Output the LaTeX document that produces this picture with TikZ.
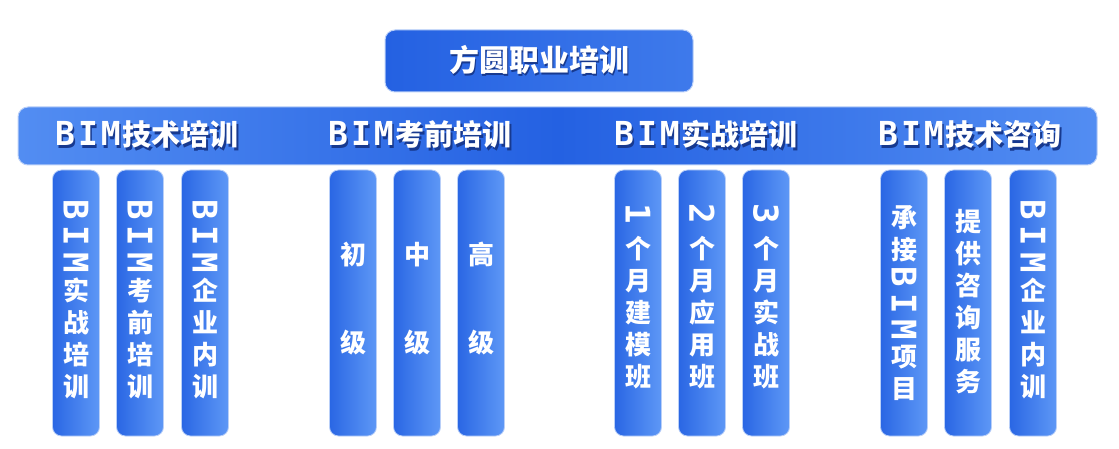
\documentclass[tikz,border=0pt]{standalone}
\usepackage{fontspec}
\usepackage{graphicx}
\setmainfont{Noto Sans CJK SC}
\newfontfamily\latfont{DejaVu Sans Mono}

\definecolor{deepblue}{HTML}{2461E2}
\definecolor{paleblue}{HTML}{5E98F6}
\definecolor{rimblue}{HTML}{B9CFF8}
\definecolor{shadeblue}{HTML}{17398F}

\setlength{\lineskip}{5pt}
\setlength{\lineskiplimit}{0pt}

\newcommand{\shadowtext}[1]{\leavevmode\rlap{\kern1.5pt\raisebox{-2.5pt}{\color{shadeblue}#1}}#1}
\newcommand{\bim}{{\latfont\bfseries\fontsize{33}{33}\selectfont B\kern3pt I\kern3pt M}}
\newcommand{\sidebim}{\rotatebox[origin=c]{-90}{\latfont\bfseries\fontsize{34}{34}\selectfont B\kern6pt I\kern6pt M}}
\newcommand{\sidenum}[1]{\rotatebox[origin=c]{-90}{\latfont\bfseries\fontsize{34}{34}\selectfont #1}}

\tikzset{
  topbox/.style={rounded corners=10pt, draw=rimblue, line width=1pt,
    left color=deepblue, right color=paleblue!45!deepblue,
    minimum width=308pt, minimum height=62pt, text=white,
    font=\fontsize{30}{32}\selectfont\bfseries},
  barbox/.style={rounded corners=10pt, draw=rimblue, line width=1pt,
    left color=paleblue!80!deepblue, right color=paleblue!80!deepblue, middle color=deepblue,
    minimum width=1079pt, minimum height=58pt},
  barlabel/.style={text=white, font=\fontsize{29}{31}\selectfont\bfseries},
  pillar/.style={rounded corners=9pt, draw=rimblue, line width=0.8pt,
    left color=deepblue!90!paleblue, right color=paleblue,
    minimum width=47pt, minimum height=266pt, inner sep=0pt},
  vtext/.style={text=white, align=center, inner sep=0pt,
    font=\fontsize{26}{32}\selectfont\bfseries},
}

\begin{document}
\begin{tikzpicture}[x=1pt, y=-1pt]
  \useasboundingbox (0,0) rectangle (1119,449);

  % --- Top ---
  \node[topbox] (top) at (539,61) {\shadowtext{方圆职业培训}};

  % --- Bar with the four courses ---
  \node[barbox] (bar) at (557.5,136) {};
  \node[barlabel] (jishu) at (147,136) {\shadowtext{\bim\kern2pt 技术培训}};
  \node[barlabel] (kaoqian) at (420,136) {\shadowtext{\bim\kern2pt 考前培训}};
  \node[barlabel] (shizhan) at (706,136) {\shadowtext{\bim\kern2pt 实战培训}};
  \node[barlabel] (zixun) at (970,136) {\shadowtext{\bim\kern2pt 技术咨询}};

  % --- Pillars ---
  \foreach \px/\py/\name/\words in {
      76/299/pa/{\sidebim\\实\\战\\培\\训},
      140/299/pb/{\sidebim\\考\\前\\培\\训},
      205/299/pc/{\sidebim\\企\\业\\内\\训},
      353/299/pd/{初\\[56pt]级},
      417/299/pe/{中\\[56pt]级},
      481/299/pf/{高\\[56pt]级},
      638/296/pg/{\sidenum{1}\\个\\月\\建\\模\\班},
      702/296/ph/{\sidenum{2}\\个\\月\\应\\用\\班},
      766/296/pi/{\sidenum{3}\\个\\月\\实\\战\\班},
      904/303/pj/{承\\接\\\sidebim\\项\\目},
      968/302/pk/{提\\供\\咨\\询\\服\\务},
      1033/299/pl/{\sidebim\\企\\业\\内\\训}} {
    \node[pillar] (\name) at (\px,303) {};
    \node[vtext] (\name-t) at (\px,\py) {\words};
  }
\end{tikzpicture}
\end{document}
